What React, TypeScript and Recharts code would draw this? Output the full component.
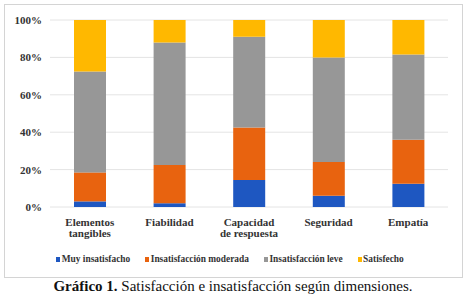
import { Bar, BarChart, CartesianGrid, Legend, Text, XAxis, YAxis } from 'recharts'

const categories = ['Elementos tangibles', 'Fiabilidad', 'Capacidad de respuesta', 'Seguridad', 'Empatía']
const seriesNames = ['Muy insatisfacho', 'Insatisfacción moderada', 'Insatisfacción leve', 'Satisfecho']
const muyInsatisfecho = [3, 2, 14.5, 6, 12.5]
const moderada = [15.5, 20.5, 28, 18, 23.5]
const leve = [54, 65.5, 48.5, 56, 45.5]
const satisfecho = [27.5, 12, 9, 20, 18.5]
const yTicks = [0, 20, 40, 60, 80, 100]

const data = categories.map((name, i) => ({
    name,
    muy: muyInsatisfecho[i],
    moderada: moderada[i],
    leve: leve[i],
    satisfecho: satisfecho[i],
}))

const serif = '"Liberation Serif", "Times New Roman", serif'
const textColor = '#333333'

const CategoryTick = ({ x, y, payload }: any) => (
    <Text
        x={x}
        y={y + 3}
        width={82}
        textAnchor="middle"
        verticalAnchor="start"
        fill={textColor}
        fontFamily={serif}
        fontWeight={700}
        fontSize={11}
    >
        {payload.value}
    </Text>
)

// keep legend in series order (recharts sorts by name otherwise)
const LegendContent = ({ payload }: any) => {
    const items = seriesNames.map((name) => payload.find((p: any) => p.value === name)).filter(Boolean)
    return (
        <div
            style={{
                display: 'flex',
                justifyContent: 'center',
                gap: 15,
                fontFamily: serif,
                fontWeight: 700,
                fontSize: 9.4,
                lineHeight: '11px',
                color: textColor,
            }}
        >
            {items.map((item: any) => (
                <div key={item.value} style={{ display: 'flex', alignItems: 'center' }}>
                    <span style={{ width: 4, height: 5, background: item.color, marginRight: 1.5, display: 'inline-block' }} />
                    <span>{item.value}</span>
                </div>
            ))}
        </div>
    )
}

const App = () => {
    return (
        <div style={{ position: 'absolute', left: 0, top: 0, width: 466, height: 301, background: '#fff' }}>
            <div
                style={{
                    position: 'absolute',
                    left: 4,
                    top: 4,
                    width: 459,
                    height: 274,
                    border: '1px solid #d4d4d4',
                    boxSizing: 'border-box',
                }}
            />
            <div style={{ position: 'absolute', left: 0, top: 0 }}>
                <BarChart width={466} height={280} data={data} margin={{ top: 20, right: 18, left: 0, bottom: 15 }}>
                    <CartesianGrid vertical={false} stroke="#e4e4e4" />
                    <XAxis dataKey="name" axisLine={false} tickLine={false} height={47} interval={0} tick={<CategoryTick />} />
                    <YAxis
                        width={50}
                        domain={[0, 100]}
                        ticks={yTicks}
                        axisLine={false}
                        tickLine={false}
                        tickFormatter={(v) => `${v}%`}
                        tick={{ fill: textColor, fontFamily: serif, fontWeight: 700, fontSize: 11 }}
                    />
                    <Legend verticalAlign="bottom" content={<LegendContent />} wrapperStyle={{ left: -3, width: 466 }} />
                    <Bar dataKey="muy" name={seriesNames[0]} stackId="a" fill="#1e57c1" barSize={32} isAnimationActive={false} />
                    <Bar dataKey="moderada" name={seriesNames[1]} stackId="a" fill="#e8630f" barSize={32} isAnimationActive={false} />
                    <Bar dataKey="leve" name={seriesNames[2]} stackId="a" fill="#979797" barSize={32} isAnimationActive={false} />
                    <Bar dataKey="satisfecho" name={seriesNames[3]} stackId="a" fill="#ffb800" barSize={32} isAnimationActive={false} />
                </BarChart>
            </div>
            <div
                style={{
                    position: 'absolute',
                    left: 0,
                    top: 278,
                    width: 466,
                    textAlign: 'center',
                    fontFamily: serif,
                    fontSize: 15,
                    color: '#111',
                }}
            >
                <b>Gráfico 1.</b> Satisfacción e insatisfacción según dimensiones.
            </div>
        </div>
    )
}

export default App
